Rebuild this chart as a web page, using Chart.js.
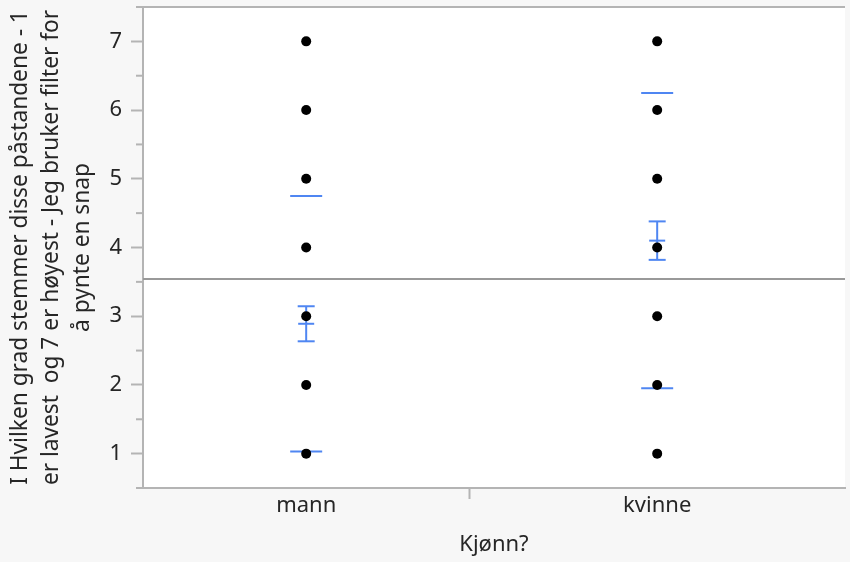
<!DOCTYPE html>
<html>
<head>
<meta charset="utf-8">
<script src="https://cdn.jsdelivr.net/npm/chart.js@4/dist/chart.umd.min.js"></script>
<style>
  html, body { margin: 0; padding: 0; background: #f7f7f7; }
  #wrap { width: 850px; height: 562px; }
</style>
</head>
<body>
<div id="wrap"><canvas id="c" width="850" height="562"></canvas></div>
<script>
// Response: agreement score 1–7, grouped by gender
const categories = ['mann', 'kvinne'];
const groupCounts = [53, 61];
const observedLevels = [
  [1, 2, 3, 4, 5, 6, 7],
  [1, 2, 3, 4, 5, 6, 7]
];
const groupMeans = [2.89, 4.10];
const groupStdDevs = [1.86, 2.15];
const groupStdErrs = [0.255, 0.28];
const grandMean = 3.54;
const yTicks = [1, 2, 3, 4, 5, 6, 7];
const yMinorTicks = [0.5, 1.5, 2.5, 3.5, 4.5, 5.5, 6.5, 7.5];

const yTitle = [
  'I Hvilken grad stemmer disse påstandene - 1',
  'er lavest  og 7 er høyest - Jeg bruker filter for',
  'å pynte en snap'
];
const xTitle = 'Kjønn?';

// Group widths along x are proportional to group size
const total = groupCounts.reduce((a, b) => a + b, 0);
const bounds = [0];
groupCounts.forEach(n => bounds.push(bounds[bounds.length - 1] + n));
const centers = groupCounts.map((n, i) => bounds[i] + n / 2);

const xTickValues = [centers[0], bounds[1], centers[1]];
const xTickLabels = [categories[0], '', categories[1]];

const pointData = [];
observedLevels.forEach((levels, i) => {
  levels.forEach(v => pointData.push({ x: centers[i], y: v }));
});

const FONT = 'Noto Sans';
const FONT_SIZE = 22;
const TITLE_SIZE = 22.7;
const AXIS_GRAY = '#b4b4b4';
const BLUE = '#4f86f2';
const TEXT = '#262626';

const framePlugin = {
  id: 'frame',
  beforeDraw(chart) {
    const { ctx, chartArea: a } = chart;
    ctx.save();
    ctx.fillStyle = '#f7f7f7';
    ctx.fillRect(0, 0, chart.width, chart.height);
    ctx.fillStyle = '#ffffff';
    ctx.fillRect(a.left, a.top, a.right - a.left, a.bottom - a.top);
    ctx.restore();
  },
  afterDraw(chart) {
    const { ctx, chartArea: a, scales: { y } } = chart;
    ctx.save();
    ctx.strokeStyle = AXIS_GRAY;
    ctx.lineWidth = 2;
    // top frame line
    ctx.beginPath();
    ctx.moveTo(a.left, a.top);
    ctx.lineTo(a.right, a.top);
    ctx.stroke();
    // minor ticks on y
    yMinorTicks.forEach(v => {
      const py = y.getPixelForValue(v);
      ctx.beginPath();
      ctx.moveTo(a.left - 7, py);
      ctx.lineTo(a.left, py);
      ctx.stroke();
    });
    ctx.restore();
  }
};

// Std-dev lines, mean error bars
const meansPlugin = {
  id: 'means',
  beforeDatasetsDraw(chart) {
    const { ctx, scales: { x, y } } = chart;
    ctx.save();
    ctx.strokeStyle = BLUE;
    ctx.lineWidth = 2;
    const hline = (cx, py, half) => {
      ctx.beginPath();
      ctx.moveTo(cx - half, py);
      ctx.lineTo(cx + half, py);
      ctx.stroke();
    };
    categories.forEach((c, i) => {
      const cx = x.getPixelForValue(centers[i]);
      const m = groupMeans[i], sd = groupStdDevs[i], se = groupStdErrs[i];
      hline(cx, y.getPixelForValue(m + sd), 16);
      hline(cx, y.getPixelForValue(m - sd), 16);
      const top = y.getPixelForValue(m + se), bot = y.getPixelForValue(m - se);
      ctx.beginPath();
      ctx.moveTo(cx, top);
      ctx.lineTo(cx, bot);
      ctx.stroke();
      hline(cx, top, 8.5);
      hline(cx, bot, 8.5);
      hline(cx, y.getPixelForValue(m), 8);
    });
    ctx.restore();
  }
};

new Chart(document.getElementById('c'), {
  type: 'scatter',
  data: {
    datasets: [
      {
        data: pointData,
        pointRadius: 5,
        pointBackgroundColor: '#000',
        pointBorderWidth: 0,
        order: 0
      },
      {
        type: 'line',
        data: [{ x: 0, y: grandMean }, { x: total, y: grandMean }],
        borderColor: '#999999',
        borderWidth: 2,
        pointRadius: 0,
        order: 1
      }
    ]
  },
  options: {
    responsive: false,
    animation: false,
    devicePixelRatio: 1,
    layout: { padding: { top: 7, right: 0, left: 0, bottom: 0 } },
    plugins: { legend: { display: false }, tooltip: { enabled: false } },
    scales: {
      x: {
        type: 'linear',
        min: 0,
        max: total,
        afterBuildTicks: s => { s.ticks = xTickValues.map(v => ({ value: v })); },
        afterFit: s => { s.height = 74; s.paddingLeft = 0; s.paddingRight = 0; },
        ticks: {
          autoSkip: false,
          maxRotation: 0,
          padding: -6,
          color: TEXT,
          font: { family: FONT, size: FONT_SIZE },
          callback: (v, i) => xTickLabels[i]
        },
        grid: {
          drawOnChartArea: false,
          tickLength: 11,
          tickWidth: 2,
          tickColor: c => c.index === 1 ? AXIS_GRAY : 'rgba(0,0,0,0)'
        },
        border: { color: AXIS_GRAY, width: 2 },
        title: {
          display: true,
          text: xTitle,
          color: TEXT,
          font: { family: FONT, size: FONT_SIZE },
          padding: { top: 0, bottom: 4 }
        }
      },
      y: {
        type: 'linear',
        min: 0.5,
        max: 7.5,
        afterBuildTicks: s => { s.ticks = yTicks.map(v => ({ value: v })); },
        afterFit: s => { s.width = 143; s.paddingTop = 0; s.paddingBottom = 0; },
        ticks: {
          padding: 9,
          color: TEXT,
          font: { family: FONT, size: FONT_SIZE }
        },
        grid: {
          drawOnChartArea: false,
          tickLength: 12,
          tickWidth: 2,
          tickColor: AXIS_GRAY
        },
        border: { color: AXIS_GRAY, width: 2 },
        title: {
          display: true,
          text: yTitle,
          color: TEXT,
          font: { family: FONT, size: TITLE_SIZE, lineHeight: 31 / TITLE_SIZE },
          padding: { top: 5, bottom: 0 }
        }
      }
    }
  },
  plugins: [framePlugin, meansPlugin]
});
</script>
</body>
</html>
